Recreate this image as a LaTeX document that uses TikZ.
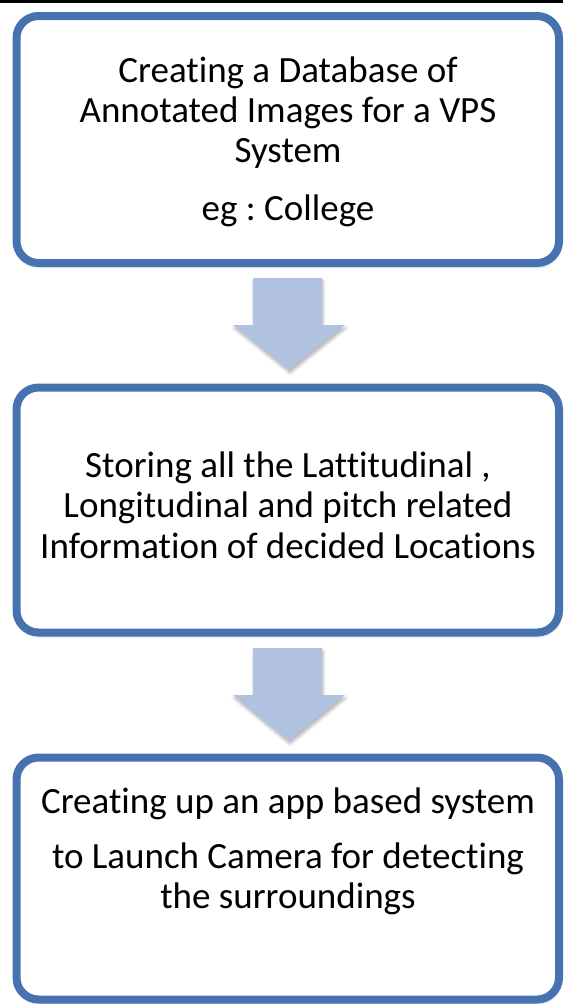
\documentclass[tikz,border=0pt]{standalone}
\usepackage{fontspec}
\setmainfont{Carlito}[Ligatures={NoCommon}]
\frenchspacing
\usetikzlibrary{shadows.blur}
\definecolor{boxblue}{HTML}{4673AF}
\definecolor{arrowfill}{HTML}{B0C2DF}
\begin{document}
\begin{tikzpicture}[x=1pt,y=-1pt,
  flowbox/.style={draw=boxblue, line width=8pt, rounded corners=22pt, fill=white,
    minimum width=542.5pt, inner sep=0pt,
    blur shadow={shadow xshift=1pt, shadow yshift=-3pt, shadow blur radius=3pt, shadow opacity=35}},
  txt/.style={anchor=base, inner sep=0pt, font=\fontsize{37}{40}\selectfont},
  blockarrow/.style={fill=arrowfill,
    blur shadow={shadow xshift=1pt, shadow yshift=-3pt, shadow blur radius=3pt, shadow opacity=30}}]
\useasboundingbox (0,0) rectangle (563,1004);
\fill[black] (0,0) rectangle (563,3.3);
% boxes
\node[flowbox, minimum height=247pt] (b1) at (287.75,139.5) {};
\node[flowbox, minimum height=245pt] (b2) at (287.75,510) {};
\node[flowbox, minimum height=242pt] (b3) at (287.75,878.5) {};
% block arrows
\fill[blockarrow] (253,278) -- (322,278) -- (322,325) -- (345,325) -- (289,370) -- (233,325) -- (253,325) -- cycle;
\fill[blockarrow] (253,648) -- (322,648) -- (322,695) -- (345,695) -- (289,741) -- (233,695) -- (253,695) -- cycle;
% texts
\node[txt] (t1a) at (288,82.7) {Creating a Database of};
\node[txt] (t1b) at (288,122.7) {Annotated Images for a VPS};
\node[txt] (t1c) at (288,162.7) {System};
\node[txt] (t1d) at (288,220) {eg : College};
\node[txt] (t2a) at (288,477.7) {Storing all the Lattitudinal ,};
\node[txt] (t2b) at (288,517.7) {Longitudinal and pitch related};
\node[txt] (t2c) at (288,558) {Information of decided Locations};
\node[txt] (t3a) at (288,813) {Creating up an app based system};
\node[txt] (t3b) at (288,868) {to Launch Camera for detecting};
\node[txt] (t3c) at (288,908) {the surroundings};
\end{tikzpicture}
\end{document}
